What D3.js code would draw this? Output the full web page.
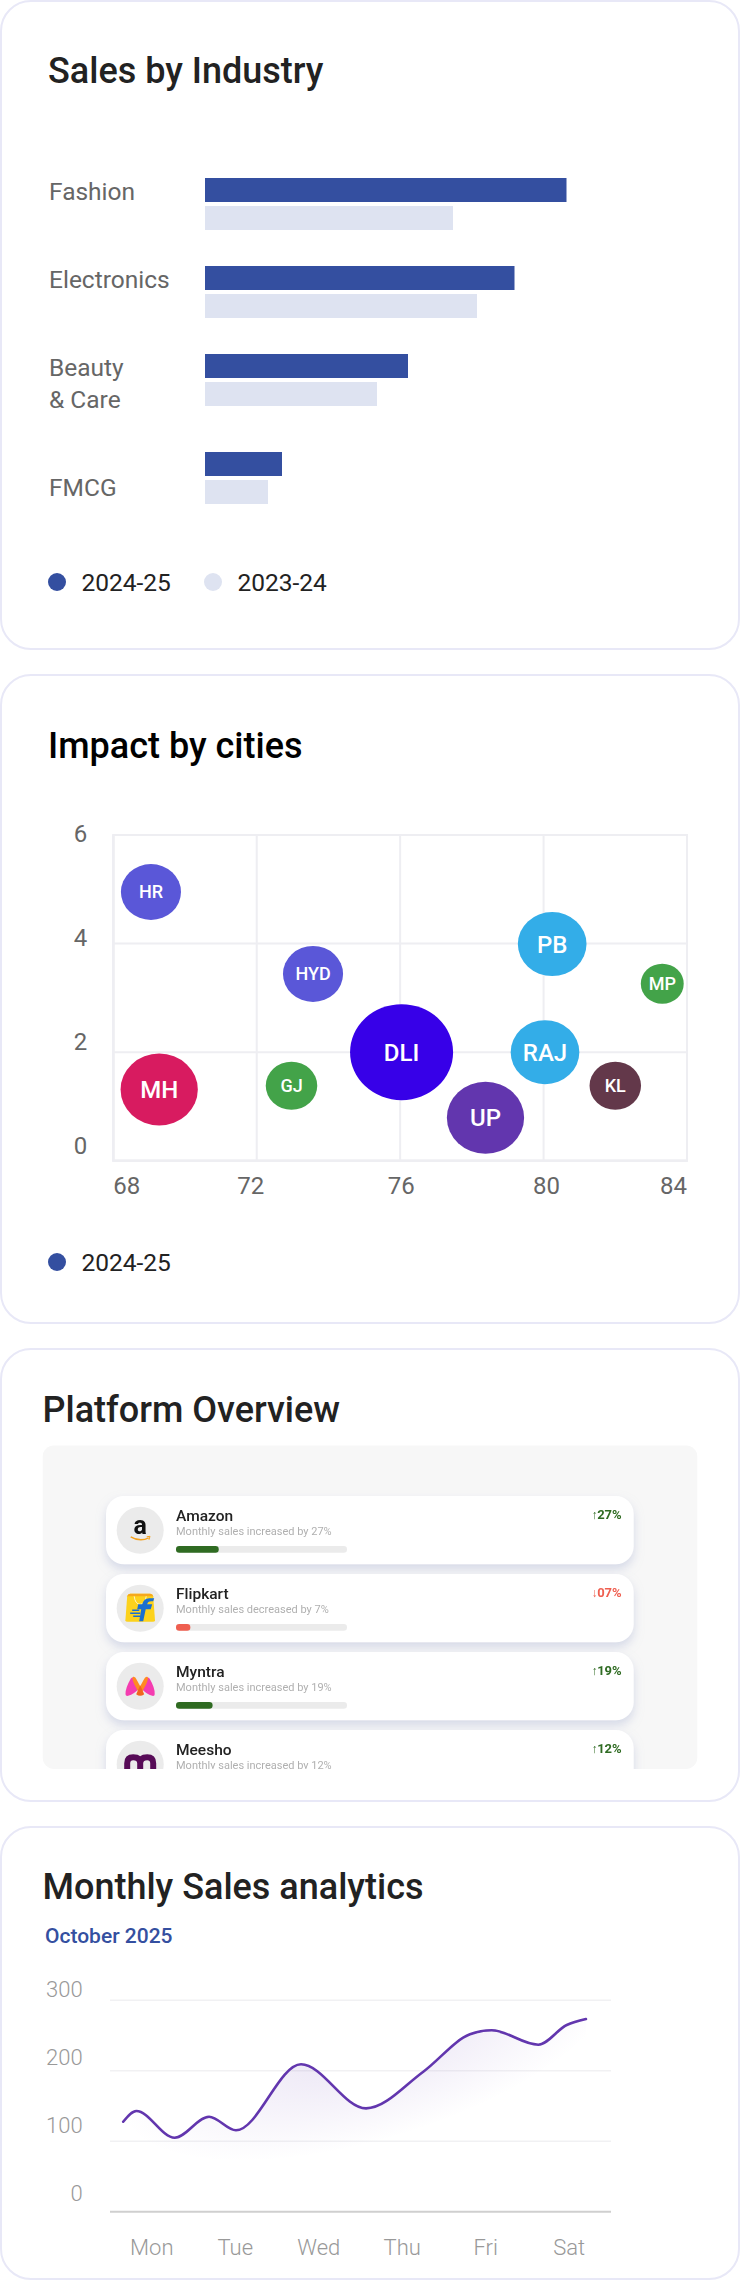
<!DOCTYPE html>
<html>
<head>
<meta charset="utf-8">
<script src="https://cdnjs.cloudflare.com/ajax/libs/d3/7.8.5/d3.min.js"></script>
<style>
  body { margin: 0; background: #fff; }
  svg { display: block; font-family: Roboto, sans-serif; }
</style>
</head>
<body>
<svg id="page" width="740" height="2281"></svg>
<script>
// Sales by Industry
const industries = [['Fashion'], ['Electronics'], ['Beauty', '& Care'], ['FMCG']];
const sales2425 = [144.6, 123.8, 81.2, 30.8];
const sales2324 = [99.2, 108.8, 68.8, 25.2];
const yearLabels = ['2024-25', '2023-24'];

// Impact by cities
const cityNames = ['HR', 'HYD', 'PB', 'MP', 'DLI', 'RAJ', 'MH', 'GJ', 'KL', 'UP'];
const cityX = [69.05, 73.57, 80.24, 83.31, 76.04, 80.04, 69.28, 72.97, 82.0, 78.38];
const cityY = [4.95, 3.44, 3.99, 3.26, 2.0, 2.0, 1.31, 1.38, 1.38, 0.79];
const citySize = [7, 7, 8, 5, 12, 8, 9, 6, 6, 9];
const cityColors = ['#5a57d8', '#5a57d8', '#33ade8', '#43a349', '#3700e8', '#33ade8', '#d81b60', '#43a349', '#63384a', '#6236ae'];
const bubbleXTicks = [68, 72, 76, 80, 84];
const bubbleYTicks = [0, 2, 4, 6];

// Platform Overview
const platforms = ['Amazon', 'Flipkart', 'Myntra', 'Meesho'];
const platformChange = [27, -7, 19, 12];
const platformBar = [25, 8.4, 21.4, 14];

// Monthly Sales analytics
const weekDays = ['Mon', 'Tue', 'Wed', 'Thu', 'Fri', 'Sat'];
const lineDays = [-0.342, -0.184, 0.274, 0.686, 1.009, 1.788, 2.566, 3.252, 3.811, 4.071, 4.629, 4.97, 5.2];
const lineSales = [127.7, 142.9, 105, 134.8, 115.5, 209.2, 146.7, 198.7, 251.7, 257.4, 237, 264.9, 273.4];
const salesTicks = [0, 100, 200, 300];

const BLUE = '#344fa0';
const PALE = '#dee3f1';
const svg = d3.select('#page');
const defs = svg.append('defs');

function card(y, h) {
  svg.append('rect').attr('x', 1).attr('y', y).attr('width', 738).attr('height', h)
    .attr('rx', 30).attr('fill', '#fff').attr('stroke', '#e8e8f7').attr('stroke-width', 2);
}

function text(parent, x, y, str, size, color, weight, anchor) {
  return parent.append('text').attr('x', x).attr('y', y).text(str)
    .attr('font-size', size).attr('fill', color)
    .attr('font-weight', weight || 400).attr('text-anchor', anchor || 'start');
}

function legend(y, labels) {
  labels.forEach((l, i) => {
    svg.append('circle').attr('cx', 57 + i * 156).attr('cy', y).attr('r', 9)
      .attr('fill', i ? PALE : BLUE);
    text(svg, 81.5 + i * 156, y + 8.5, l, 24.5, '#222');
  });
}

// ---------- bars
card(1, 648);
text(svg, 48, 83, 'Sales by Industry', 36, '#222', 500);

const barX = d3.scaleLinear().domain([0, 150]).range([205, 580]);
let rowTop = 178;
industries.forEach((lines, i) => {
  svg.append('rect').attr('x', barX(0)).attr('y', rowTop).attr('height', 24)
    .attr('width', barX(sales2425[i]) - barX(0)).attr('fill', BLUE);
  svg.append('rect').attr('x', barX(0)).attr('y', rowTop + 28).attr('height', 24)
    .attr('width', barX(sales2324[i]) - barX(0)).attr('fill', PALE);
  // the last row's label sits below its bars
  const base = rowTop + (i == 3 ? 44 : 22);
  lines.forEach((l, j) => text(svg, 49, base + j * 32, l, 24.5, '#666'));
  rowTop += lines.length > 1 ? 98 : 88;
});
legend(582, yearLabels);

// ---------- bubbles
card(675, 648);
text(svg, 48, 757.5, 'Impact by cities', 36, '#000', 500);

const bubbleX = d3.scaleLinear().domain([68, 84]).range([113.3, 687]);
const bubbleY = d3.scaleLinear().domain([0, 6]).range([1160.7, 835]);
const bubbleYLabel = d3.scaleLinear().domain([0, 6]).range([1154, 841.7]);
const sizeRy = d3.scaleLinear().domain([0, 12]).range([0, 48]);
const sizeRx = d3.scaleLinear().domain([0, 12]).range([0, 51.5]);

const gridColor = '#eeeef2';
const xAxis = svg.append('g').attr('transform', 'translate(0,1160.7)')
  .call(d3.axisBottom(bubbleX).offset(0).tickValues(bubbleXTicks).tickSize(-325.7));
const yAxis = svg.append('g').attr('transform', 'translate(113.3,0)')
  .call(d3.axisLeft(bubbleY).offset(0).tickValues(bubbleYTicks).tickSize(-573.7).tickFormat(''));
[xAxis, yAxis].forEach(a => {
  a.selectAll('line').attr('stroke', gridColor).attr('stroke-width', 2);
  a.select('.domain').attr('stroke', gridColor).attr('stroke-width', 2);
});
svg.append('rect').attr('x', 113.3).attr('y', 835).attr('width', 573.7).attr('height', 325.7)
  .attr('fill', 'none').attr('stroke', gridColor).attr('stroke-width', 2);
const xShift = { 72: -6, 76: 1, 80: 3 };
xAxis.selectAll('text')
  .attr('font-family', 'Roboto').attr('font-size', 24).attr('fill', '#666')
  .attr('text-anchor', d => d == 68 ? 'start' : d == 84 ? 'end' : 'middle')
  .attr('dx', d => xShift[d] || 0)
  .attr('y', 33.7).attr('dy', 0);
bubbleYTicks.forEach(t => text(svg, 87.3, bubbleYLabel(t), t, 24, '#666', 400, 'end'));

const city = svg.append('g').selectAll('g').data(cityNames).join('g')
  .attr('transform', (d, i) => `translate(${bubbleX(cityX[i])},${bubbleY(cityY[i])})`);
city.append('ellipse')
  .attr('rx', (d, i) => sizeRx(citySize[i])).attr('ry', (d, i) => sizeRy(citySize[i]))
  .attr('fill', (d, i) => cityColors[i]);
city.append('text').text(d => d).attr('text-anchor', 'middle').attr('fill', '#fff')
  .attr('font-weight', 500).attr('dy', '0.36em')
  .attr('font-size', (d, i) => citySize[i] >= 8 ? 24 : 18);
legend(1262, yearLabels.slice(0, 1));

// ---------- platform list
card(1349, 452);
text(svg, 42.5, 1421.7, 'Platform Overview', 36, '#222', 500);

defs.append('clipPath').attr('id', 'panelClip').append('rect')
  .attr('x', 42.5).attr('y', 1445.3).attr('width', 655).attr('height', 323.7).attr('rx', 12);
defs.append('filter').attr('id', 'rowShadow').attr('x', '-10%').attr('y', '-20%').attr('width', '120%').attr('height', '150%')
  .append('feDropShadow').attr('dx', 0).attr('dy', 5).attr('stdDeviation', 5)
  .attr('flood-color', '#b4bcd8').attr('flood-opacity', 0.5);

const panelClip = svg.append('g').attr('clip-path', 'url(#panelClip)');
panelClip.append('rect').attr('x', 42.5).attr('y', 1445.3).attr('width', 655).attr('height', 323.7).attr('fill', '#f7f7f7');
// the list is a scaled screenshot in the original, so it is a little soft
const panel = panelClip.append('g').style('filter', 'blur(0.35px)');

const rowY = d3.scaleLinear().domain([0, 1]).range([1496, 1574]);
const trackW = d3.scaleLinear().domain([0, 100]).range([0, 171]);
const GREEN = '#2f6b22';
const RED = '#ef5f50';

const logos = [
  g => {
    text(g, 0, 4, 'a', 25, '#111', 700, 'middle');
    g.append('path').attr('d', 'M-9.5 6.5 Q0 12 8.5 7.5').attr('fill', 'none').attr('stroke', '#f5a11c').attr('stroke-width', 1.4);
    g.append('path').attr('d', 'M6.5 6.5 L9.8 6 L8.8 9.5').attr('fill', 'none').attr('stroke', '#f5a11c').attr('stroke-width', 1);
  },
  g => {
    g.append('path').attr('d', 'M-13 -12 Q-12.5 -14.500 -10 -14.500 H10 Q12.500 -14.500 13 -12 L14.800 12 Q14.800 13.500 12.500 13.500 H-12.500 Q-14.800 13.500 -14.800 12 Z').attr('fill', '#fcd21c');
    g.append('path').attr('d', 'M-13 -12 Q-12.5 -14.500 -10 -14.500 H10 Q12.500 -14.500 13 -12 Z').attr('fill', '#f6a81c');
    g.append('path').attr('d', 'M-6 -12 Q-5 -4 0 -4 Q5 -4 6 -12').attr('fill', 'none').attr('stroke', '#fff3c0').attr('stroke-width', 1);
    g.append('path').attr('d', 'M3 13 L5.500 1 H10.500 L12 -4 H7 Q7.500 -7 11 -7 H13 L14 -10 H9 Q3.500 -10 2 -4 H-2 L-3 1 H1 L-1 13 Z').attr('fill', '#1a6fd0');
    g.append('path').attr('d', 'M-10 5 H0 M-7 8 H0 M-8 2 H-1').attr('stroke', '#1a6fd0').attr('stroke-width', 1.4);
  },
  g => {
    g.append('path').attr('d', 'M-14.700 8 Q-15 2 -9.500 -7.500 Q-7.500 -10 -5.500 -7.500 L-1 2 Q-6 8 -12 9.500 Q-14.500 10 -14.700 8 Z').attr('fill', '#f43cb0');
    g.append('path').attr('d', 'M14.500 8 Q15 2 9.500 -7.500 Q7.500 -10 5.500 -7.500 L1 2 Q6 8 12 9.500 Q14.500 10 14.500 8 Z').attr('fill', '#f43cb0');
    g.append('path').attr('d', 'M-7 -9.500 Q-5 -10 -3.500 -6.500 L0 0 L3.500 -6.500 Q5 -10 7 -9.500 Q9 -9 6 -2 L0 9 L-6 -2 Q-9 -9 -7 -9.500 Z').attr('fill', '#ff8a22');
    g.append('path').attr('d', 'M0 -1 L4 8 Q0 11 -4 8 Z').attr('fill', '#f2651e');
  },
  g => {
    g.append('path').attr('d', 'M-13 20 V-1 Q-13 -7 -7 -7 Q0 -7 0 -1 V14 M0 -1 Q0 -7 7 -7 Q13 -7 13 -1 V20')
      .attr('fill', 'none').attr('stroke', '#570b57').attr('stroke-width', 6);
  }
];

platforms.forEach((name, i) => {
  const y = rowY(i);
  const row = panel.append('g').attr('transform', `translate(0,${y})`);
  row.append('rect').attr('x', 106).attr('y', 0).attr('width', 527.7).attr('height', 68.3).attr('rx', 18)
    .attr('fill', '#fff').attr('filter', 'url(#rowShadow)');
  const logo = row.append('g').attr('transform', 'translate(140.2,34.3)');
  logo.append('circle').attr('r', 23.5).attr('fill', '#ebebeb');
  logos[i](logo);
  text(row, 176, 24.7, name, 15.5, '#222', 500);
  const ch = platformChange[i];
  const dir = ch >= 0 ? 'increased' : 'decreased';
  text(row, 176, 39, `Monthly sales ${dir} by ${Math.abs(ch)}%`, 11, '#b0b0b0');
  const col = ch >= 0 ? GREEN : RED;
  const pct = `${String(Math.abs(ch)).padStart(2, '0')}%`;
  text(row, 621.7, 23, pct, 13, col, 700, 'end');
  text(row, 597.5, 23, ch >= 0 ? '↑' : '↓', 12, col, 400, 'end');
  row.append('rect').attr('x', 176).attr('y', 50).attr('width', trackW(100)).attr('height', 6.7).attr('rx', 3.3).attr('fill', '#ebebeb');
  row.append('rect').attr('x', 176).attr('y', 50).attr('width', trackW(platformBar[i])).attr('height', 6.7).attr('rx', 3.3).attr('fill', col);
});

// ---------- line
card(1827, 452);
text(svg, 42.5, 1899, 'Monthly Sales analytics', 36, '#222', 500);
text(svg, 45, 1942.7, 'October 2025', 21, BLUE, 500);

const dayX = d3.scaleLinear().domain([-0.5, 5.5]).range([110, 611]);
const salesY = d3.scaleLinear().domain([0, 300]).range([2211.7, 2000.3]);
const salesLabelY = d3.scaleLinear().domain([0, 300]).range([2200.7, 1996.7]);

// soft glow under the line, tilted with the trend
const grad = defs.append('radialGradient').attr('id', 'areaFill').attr('gradientUnits', 'userSpaceOnUse')
  .attr('cx', 0).attr('cy', 0).attr('r', 1)
  .attr('gradientTransform', 'translate(370,2040) rotate(-16.7) scale(260,100)');
grad.append('stop').attr('offset', 0).attr('stop-color', '#6236ae').attr('stop-opacity', 0.14);
grad.append('stop').attr('offset', 1).attr('stop-color', '#6236ae').attr('stop-opacity', 0);

salesTicks.forEach(t => {
  svg.append('line').attr('x1', dayX(-0.5)).attr('x2', dayX(5.5)).attr('y1', salesY(t)).attr('y2', salesY(t))
    .attr('stroke', t ? '#f1f1f3' : '#cfcfcf').attr('stroke-width', t ? 1.5 : 2);
  text(svg, 82.6, salesLabelY(t), t, 22, '#999', 300, 'end');
});
weekDays.forEach((d, i) => text(svg, dayX(i), 2255, d, 22, '#999', 300, 'middle'));

const linePts = lineDays.map((d, i) => [d, lineSales[i]]);
const smooth = d3.curveMonotoneX;
svg.append('path').datum(linePts).attr('fill', 'url(#areaFill)')
  .attr('d', d3.area().x(d => dayX(d[0])).y0(salesY(0)).y1(d => salesY(d[1])).curve(smooth));
svg.append('path').datum(linePts).attr('fill', 'none').attr('stroke', '#6236ae').attr('stroke-width', 2.6)
  .attr('stroke-linecap', 'round')
  .attr('d', d3.line().x(d => dayX(d[0])).y(d => salesY(d[1])).curve(smooth));
</script>
</body>
</html>
